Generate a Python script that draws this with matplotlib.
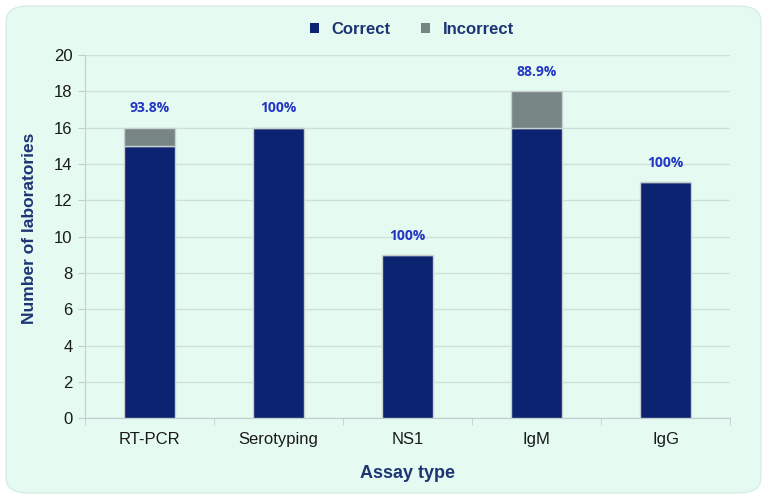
import matplotlib
matplotlib.use("Agg")
import matplotlib.pyplot as plt
from matplotlib.patches import FancyBboxPatch, Patch
import numpy as np

plt.rcParams["font.family"] = ["Liberation Sans", "DejaVu Sans"]

categories = ["RT-PCR", "Serotyping", "NS1", "IgM", "IgG"]
correct = [15, 16, 9, 16, 13]
incorrect = [1, 0, 0, 2, 0]
pct_labels = ["93.8%", "100%", "100%", "88.9%", "100%"]

bg = "#e5fbf1"
navy = "#0b2371"
grey = "#778685"
txt_navy = "#1d3575"
pct_blue = "#2236c4"

fig = plt.figure(figsize=(7.67, 4.99), dpi=100)
fig.patch.set_facecolor("white")
box = FancyBboxPatch((0.008, 0.012), 0.984, 0.976, boxstyle="round,pad=0,rounding_size=0.03",
                     transform=fig.transFigure, facecolor=bg, edgecolor="#d8ede4", lw=1, zorder=-5)
fig.patches.append(box)

ax = fig.add_axes([0.111, 0.162, 0.841, 0.728])
ax.set_zorder(2)
ax.patch.set_alpha(0)
x = np.arange(len(categories))
w = 0.40
ax.bar(x, correct, w, color=navy, edgecolor="#c8d0d0", lw=1, zorder=3, label="Correct")
ax.bar(x, incorrect, w, bottom=correct, color=grey, edgecolor="#c8d0d0", lw=1, zorder=3, label="Incorrect")

for xi, c, i, t in zip(x, correct, incorrect, pct_labels):
    ax.text(xi, c + i + 1.05, t, ha="center", va="center", color=pct_blue,
            fontsize=10, fontweight="bold", family="Open Sans")

ax.set_xlim(-0.5, len(categories) - 0.5)
ax.set_ylim(0, 20)
ax.set_yticks(np.arange(0, 21, 2))
ax.yaxis.grid(True, color="#cfe0d9", lw=1, zorder=0)
ax.set_axisbelow(True)
ax.set_xticks(x)
ax.set_xticklabels(categories, fontsize=12, color="#1a1a1a")
ax.set_xticks(np.arange(-0.5, len(categories)), minor=True)
ax.tick_params(axis="x", which="major", length=0, pad=10)
ax.tick_params(axis="x", which="minor", length=5, color="#bfcfcf")
ax.tick_params(axis="y", length=5, color="#bfcfcf", labelsize=12, labelcolor="#1a1a1a", pad=4)
for s in ["top", "right"]:
    ax.spines[s].set_visible(False)
ax.spines["left"].set_color("#bfcfcf")
ax.spines["bottom"].set_color("#bfcfcf")

ax.set_xlabel("Assay type", fontsize=13, fontweight="bold", color=txt_navy)
ax.xaxis.set_label_coords(0.5, -0.128)
ax.set_ylabel("Number of laboratories", fontsize=12.5, fontweight="bold", color=txt_navy)
ax.yaxis.set_label_coords(-0.075, 0.523)

handles = [Patch(facecolor=navy, edgecolor="none"), Patch(facecolor=grey, edgecolor="none")]
leg = fig.legend(handles, ["Correct", "Incorrect"], loc="center", bbox_to_anchor=(0.537, 0.941),
                 ncol=2, frameon=False, fontsize=12, handlelength=0.55, handleheight=0.55,
                 columnspacing=1.8, handletextpad=0.75)
for t in leg.get_texts():
    t.set_color(txt_navy)
    t.set_fontweight("bold")

fig.savefig("out.png", dpi=100, facecolor="white")
